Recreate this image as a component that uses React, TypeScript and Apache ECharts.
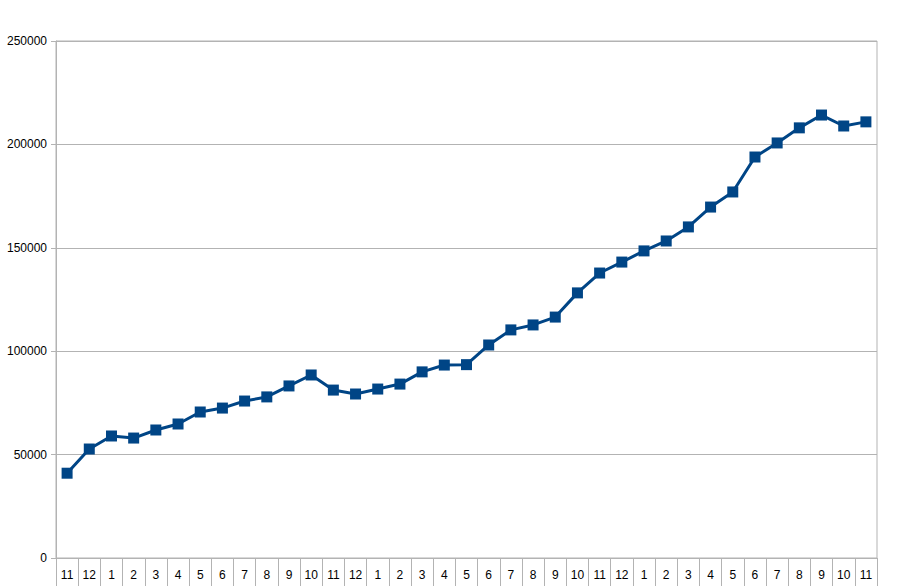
import React, { useEffect, useRef } from "react";
import * as echarts from "echarts";

const categories = [
  "11", "12",
  "1", "2", "3", "4", "5", "6", "7", "8", "9", "10", "11", "12",
  "1", "2", "3", "4", "5", "6", "7", "8", "9", "10", "11", "12",
  "1", "2", "3", "4", "5", "6", "7", "8", "9", "10", "11",
];

const values = [
  41000, 52700,
  59000, 58000, 61900, 64800, 70600, 72500, 75900, 77900, 83200, 88500, 81200, 79300,
  81700, 84100, 90000, 93300, 93500, 103000, 110300, 112700, 116500, 128200, 137800, 143100,
  148500, 153300, 160100, 169700, 177000, 193900, 200700, 208000, 214200, 208900, 210900,
];

const yMin = 0;
const yMax = 250000;
const yStep = 50000;

export default function App() {
  const ref = useRef<HTMLDivElement>(null);

  useEffect(() => {
    if (!ref.current) return;
    const chart = echarts.init(ref.current, null, { renderer: "svg" });
    const font = "'Liberation Sans', Arial, sans-serif";
    chart.setOption({
      animation: false,
      backgroundColor: "#ffffff",
      grid: {
        left: 56,
        right: 21,
        top: 41,
        bottom: 28,
        show: true,
        borderColor: "#b3b3b3",
        borderWidth: 1,
        containLabel: false,
      },
      xAxis: {
        type: "category",
        data: categories,
        boundaryGap: true,
        axisLine: { show: true, lineStyle: { color: "#b3b3b3", width: 1 } },
        axisTick: {
          show: true,
          interval: 0,
          length: 30,
          lineStyle: { color: "#b3b3b3", width: 1 },
        },
        axisLabel: {
          interval: 0,
          color: "#000000",
          fontFamily: font,
          fontSize: 12,
          margin: 11,
        },
        splitLine: { show: false },
      },
      yAxis: {
        type: "value",
        min: yMin,
        max: yMax,
        interval: yStep,
        axisLine: { show: true, lineStyle: { color: "#b3b3b3", width: 1 } },
        axisTick: { show: true, length: 5, lineStyle: { color: "#b3b3b3" } },
        axisLabel: {
          color: "#000000",
          fontFamily: font,
          fontSize: 12,
          margin: 9,
          formatter: (v: number) => String(v),
        },
        splitLine: { show: true, lineStyle: { color: "#b3b3b3", width: 1 } },
      },
      series: [
        {
          type: "line",
          data: values,
          symbol: "rect",
          symbolSize: 11,
          lineStyle: { color: "#004586", width: 3 },
          itemStyle: { color: "#004586" },
          emphasis: { disabled: true },
        },
      ],
    });
    return () => chart.dispose();
  }, []);

  return (
    <div
      ref={ref}
      style={{ position: "fixed", left: 0, top: 0, width: 898, height: 586 }}
    />
  );
}
